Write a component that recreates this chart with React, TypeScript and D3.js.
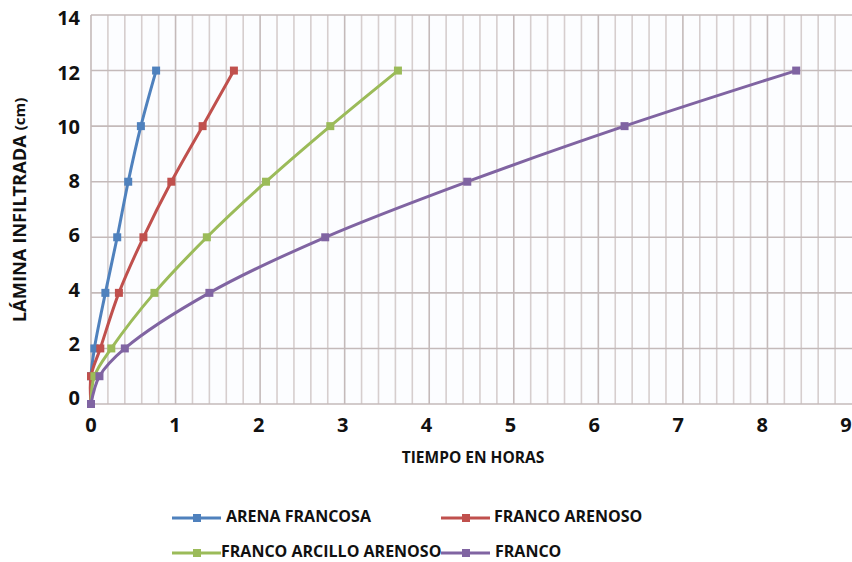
import React from "react";
import * as d3 from "d3";

const W = 852;
const H = 562;

const seriesNames = ["ARENA FRANCOSA", "FRANCO ARENOSO", "FRANCO ARCILLO ARENOSO", "FRANCO"];
const seriesColors = ["#4F81BD", "#C0504D", "#9BBB59", "#8064A2"];

const depthValues = [0, 1, 2, 4, 6, 8, 10, 12];
const arenaFrancosa = [0, 0, 0.04, 0.17, 0.31, 0.44, 0.59, 0.77];
const francoArenoso = [0, 0, 0.11, 0.33, 0.62, 0.95, 1.32, 1.69];
const francoArcilloArenoso = [0, 0.04, 0.24, 0.75, 1.37, 2.07, 2.83, 3.63];
const franco = [0, 0.1, 0.4, 1.4, 2.77, 4.45, 6.31, 8.34];

const xTicks = [0, 1, 2, 3, 4, 5, 6, 7, 8, 9];
const yTicks = [0, 2, 4, 6, 8, 10, 12, 14];

const FONT = "'Open Sans', 'DejaVu Sans', sans-serif";

export default function App() {
  const x = d3.scaleLinear().domain([0, 9]).range([91, 852]);
  const y = d3.scaleLinear().domain([0, 14]).range([404, 15]);
  const xLab = d3.scaleLinear().domain([0, 9]).range([91, 846]);
  const yLab = d3.scaleLinear().domain([0, 14]).range([400, 20]);
  const allSeries = [arenaFrancosa, francoArenoso, francoArcilloArenoso, franco];
  const line = d3
    .line<[number, number]>()
    .x((d) => x(d[0]))
    .y((d) => y(d[1]))
    .curve(d3.curveCatmullRom.alpha(0.5));

  const minorX = d3.range(0, 45).map((i) => i * 0.2);
  const legendItems = [
    { lx: 172, ly: 518, tx: 226 },
    { lx: 441, ly: 518, tx: 494 },
    { lx: 172, ly: 553, tx: 221 },
    { lx: 441, ly: 553, tx: 495 },
  ];

  return (
    <svg width={W} height={H} style={{ position: "absolute", left: 0, top: 0, background: "#fff" }}>
      <rect x={x(0)} y={y(14)} width={x(9) - x(0)} height={y(0) - y(14)} fill="#fcfdff" />
      {minorX.map((v, i) => (
        <line
          key={"vx" + i}
          x1={x(v)}
          x2={x(v)}
          y1={y(14)}
          y2={y(0)}
          stroke={i % 5 === 0 ? "#c4baba" : "#d6cece"}
          strokeWidth={1.6}
        />
      ))}
      {yTicks.map((v) => (
        <line key={"hy" + v} x1={x(0)} x2={x(9)} y1={y(v)} y2={y(v)} stroke="#c4baba" strokeWidth={1.6} />
      ))}
      {yTicks.map((v) => (
        <text
          key={"yl" + v}
          x={80}
          y={yLab(v)}
          textAnchor="end"
          dominantBaseline="middle"
          fontFamily={FONT}
          fontWeight={700}
          fontSize={20}
          fill="#111"
        >
          {v}
        </text>
      ))}
      {xTicks.map((v) => (
        <text
          key={"xl" + v}
          x={xLab(v)}
          y={427}
          textAnchor="middle"
          dominantBaseline="middle"
          fontFamily={FONT}
          fontWeight={700}
          fontSize={20}
          fill="#111"
        >
          {v}
        </text>
      ))}
      <text x={473} y={459} textAnchor="middle" dominantBaseline="middle" fontFamily={FONT} fontWeight={700} fontSize={15.5} fill="#111">
        TIEMPO EN HORAS
      </text>
      <text
        transform="translate(21,210) rotate(-90)"
        textAnchor="middle"
        dominantBaseline="middle"
        fontFamily={FONT}
        fontWeight={700}
        fontSize={18.3}
        fill="#111"
      >
        LÁMINA INFILTRADA <tspan fontSize={15}>(cm)</tspan>
      </text>
      {allSeries.map((s, si) => {
        const pts: [number, number][] = s.map((v, i) => [v, depthValues[i]]);
        return (
          <g key={"s" + si}>
            <path d={line(pts) || ""} fill="none" stroke={seriesColors[si]} strokeWidth={3} />
            {pts.map((p, i) => (
              <rect key={i} x={x(p[0]) - 4} y={y(p[1]) - 4} width={8} height={8} fill={seriesColors[si]} />
            ))}
          </g>
        );
      })}
      {legendItems.map((it, i) => (
        <g key={"lg" + i}>
          <line x1={it.lx} x2={it.lx + 49} y1={it.ly} y2={it.ly} stroke={seriesColors[i]} strokeWidth={3} />
          <rect x={it.lx + 21} y={it.ly - 4} width={8} height={8} fill={seriesColors[i]} />
          <text x={it.tx} y={it.ly} dominantBaseline="middle" fontFamily={FONT} fontWeight={700} fontSize={16} fill="#111">
            {seriesNames[i]}
          </text>
        </g>
      ))}
    </svg>
  );
}
